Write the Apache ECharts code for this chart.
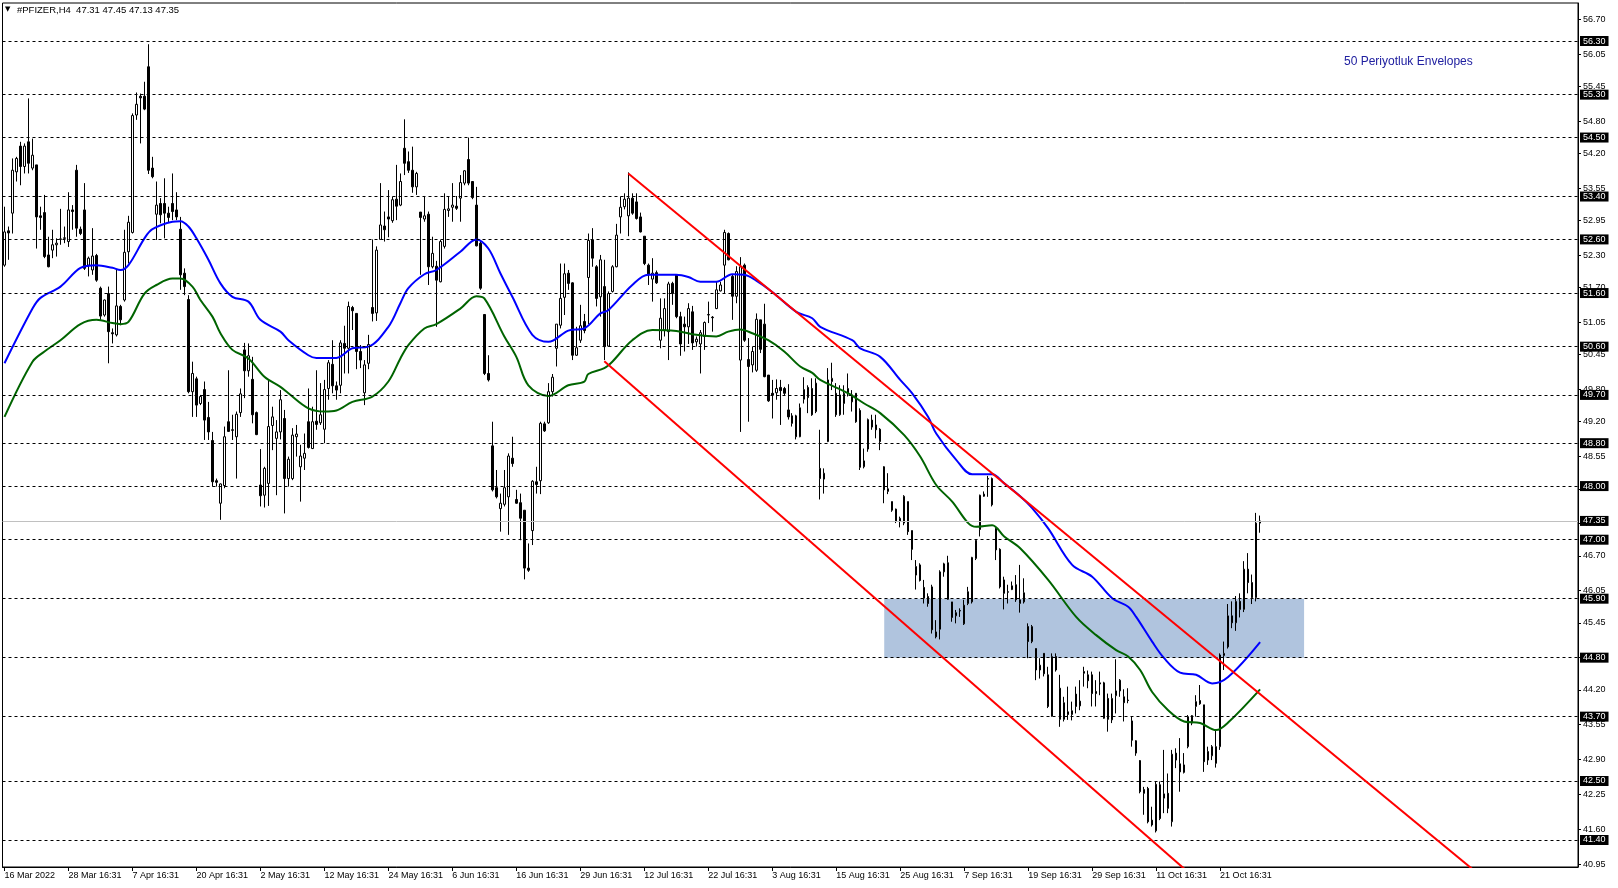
<!DOCTYPE html>
<html><head><meta charset="utf-8">
<script src="https://cdn.jsdelivr.net/npm/echarts@6/dist/echarts.min.js"></script>
<style>html,body{margin:0;padding:0;background:#fff;}#c{width:1618px;height:888px;}</style>
</head><body><div id="c"></div>
<script>
// ---- data (H4 bars, index 0 = 16 Mar 2022) ----
const opens = [52.12,52.76,53.09,53.86,54.34,53.96,54.42,53.93,53.99,53.04,53.10,52.31,52.40,52.50,52.60,52.62,52.56,53.15,53.89,52.79,
53.15,52.12,52.03,52.30,51.69,51.19,51.59,50.86,50.82,51.35,51.47,52.37,52.73,54.92,55.27,55.27,55.82,53.93,53.07,53.27,
53.27,53.09,53.27,53.15,52.79,51.97,51.48,49.76,50.00,49.54,49.80,49.28,48.85,48.10,47.68,48.01,49.20,49.05,48.92,49.37,
50.54,50.15,49.99,49.37,48.02,47.83,48.05,49.13,48.89,49.01,49.26,48.14,48.14,48.92,48.36,48.52,49.20,48.70,49.21,49.18,
49.06,49.82,50.27,49.87,49.88,50.66,50.57,51.33,51.22,50.51,49.74,50.29,51.33,51.23,52.60,52.85,53.02,52.95,53.35,53.24,
54.30,54.05,53.89,53.58,53.11,52.98,53.07,52.09,52.10,51.81,52.47,53.14,53.20,53.22,53.37,53.65,54.09,53.68,53.24,52.53,
51.20,50.10,48.75,47.97,47.58,47.66,47.80,48.52,47.75,47.69,47.55,46.47,47.17,48.08,48.10,49.16,49.18,49.76,50.57,51.00,
51.52,51.97,51.79,50.44,50.72,51.07,51.89,52.59,52.09,51.53,51.72,50.61,51.63,52.09,53.02,53.21,53.04,53.37,53.30,53.02,
52.66,52.12,51.86,51.98,50.72,50.91,50.88,51.78,51.94,51.16,51.02,50.97,51.25,50.69,50.65,50.79,51.19,51.15,51.31,51.64,
52.12,52.71,51.91,51.54,50.35,52.12,50.36,50.26,50.16,51.10,51.02,50.07,49.73,49.74,49.84,49.82,49.42,49.31,49.31,48.92,
49.62,49.84,49.82,49.39,48.33,48.13,48.83,49.95,49.73,49.33,49.54,49.73,49.57,49.73,49.41,48.36,48.69,49.23,49.14,49.06,
48.36,47.90,47.71,47.57,47.34,47.31,47.71,47.17,46.34,46.53,46.11,45.94,46.12,45.28,45.33,46.40,46.57,45.84,45.58,45.67,
45.43,45.81,45.84,46.65,47.19,47.81,48.14,48.14,47.21,46.82,46.25,46.03,46.07,46.16,45.81,45.84,45.38,45.10,44.97,44.57,
44.88,44.48,43.71,44.82,44.23,43.65,43.79,43.74,44.12,43.90,44.54,44.48,44.48,44.17,44.33,44.33,44.04,43.64,44.09,44.18,
44.07,44.01,43.62,43.25,42.88,42.34,42.36,41.77,41.57,42.43,42.18,42.27,41.74,43.02,42.82,42.66,43.14,43.58,43.89,44.00,
43.92,42.89,42.97,43.14,43.14,44.84,45.00,45.58,45.45,45.85,45.70,46.45,46.20,45.92,47.31];
const highs = [53.21,52.84,54.11,54.14,54.42,54.39,55.23,54.48,53.99,53.21,53.43,52.65,52.78,52.62,53.17,52.84,53.48,53.24,53.99,52.84,
53.65,52.28,52.81,52.33,51.72,51.48,51.72,50.94,52.04,51.38,52.78,53.04,54.95,55.34,55.32,55.54,56.24,54.14,53.68,53.37,
53.74,53.21,53.83,53.48,53.02,52.06,51.56,50.32,50.04,49.70,49.95,49.57,49.01,48.14,48.05,49.11,50.16,49.33,49.39,49.82,
50.67,50.66,50.41,49.39,48.69,48.36,49.99,49.48,49.23,49.79,49.42,48.55,49.08,49.14,48.77,48.98,49.82,49.48,50.16,49.92,
49.98,50.35,50.72,49.95,50.72,50.99,51.44,51.36,51.22,50.63,50.35,50.82,52.60,52.47,53.65,53.12,53.52,53.40,53.99,53.83,
54.84,54.24,54.33,53.86,53.11,53.41,53.12,52.65,52.20,52.59,53.46,53.40,53.65,53.41,53.80,53.89,54.50,53.68,53.58,52.58,
51.20,50.44,49.20,48.30,47.86,48.30,48.61,48.92,47.93,47.86,47.55,46.93,48.11,48.36,49.20,49.20,49.92,50.09,51.02,52.15,
52.15,52.03,51.80,50.97,51.38,51.21,52.71,52.81,52.12,52.31,52.22,51.63,52.12,52.89,53.40,53.46,53.85,53.46,53.46,53.10,
52.66,52.15,52.25,52.02,51.50,51.50,51.81,51.81,51.94,51.25,51.16,51.41,51.36,50.79,50.91,51.07,51.44,51.17,51.81,51.81,
52.78,52.73,51.94,52.10,52.27,52.15,50.76,50.60,51.22,51.10,51.40,50.07,49.98,49.99,49.98,49.85,49.90,49.36,49.33,49.54,
50.03,49.88,50.01,50.01,49.05,48.33,50.20,50.30,49.92,49.88,49.88,50.10,49.79,49.73,49.45,48.70,49.26,49.33,49.33,49.08,
48.37,48.24,47.71,47.58,47.43,47.83,47.71,47.17,46.62,46.56,46.25,46.00,46.16,45.50,46.43,46.57,46.70,45.84,45.69,45.72,
45.88,46.12,46.68,47.01,47.84,47.90,48.19,48.16,47.23,46.84,46.31,46.16,46.22,46.34,46.53,46.28,45.44,45.41,44.97,44.79,
44.88,44.63,44.88,44.88,44.48,44.07,44.26,43.98,44.26,44.38,44.63,44.56,44.54,44.38,44.54,44.35,44.13,44.13,44.77,44.40,
44.21,44.23,43.70,43.26,42.89,42.39,42.39,42.02,42.49,42.49,43.08,42.64,43.08,43.11,43.30,43.02,43.73,43.73,44.10,44.29,
43.92,43.14,43.17,43.44,44.88,45.10,45.80,45.85,45.95,46.00,46.60,46.75,46.35,47.50,47.45];
const lows = [52.09,52.22,52.71,53.68,53.61,53.83,53.83,53.89,52.43,52.78,52.25,52.08,52.25,52.28,52.50,52.53,52.46,52.78,52.65,52.68,
52.03,51.91,51.94,51.81,51.10,51.16,50.29,50.66,50.79,51.00,51.44,52.15,52.71,54.83,54.39,55.01,53.82,53.74,52.59,52.90,
52.62,52.91,52.96,52.96,51.66,51.56,49.73,49.29,49.29,49.51,48.86,48.86,47.99,47.99,47.37,47.96,49.01,48.86,48.14,49.29,
49.64,50.04,49.17,48.95,47.62,47.60,47.63,48.67,47.83,48.87,47.49,47.99,48.11,48.55,47.71,48.30,48.70,48.69,49.05,49.14,
48.80,49.61,49.73,49.61,49.73,50.10,50.10,50.91,50.18,50.20,49.51,50.18,51.07,51.08,52.60,52.56,52.64,52.91,52.96,53.22,
53.80,53.84,53.47,53.43,51.94,52.93,51.75,52.06,50.97,51.80,52.43,53.02,52.93,53.15,52.93,53.61,53.61,53.35,52.47,51.66,
50.07,49.95,47.90,47.77,47.15,47.62,47.09,48.36,47.67,46.99,46.26,46.40,46.90,47.86,47.85,49.01,49.16,49.67,50.23,50.94,
51.19,51.66,50.35,50.43,50.67,50.85,51.02,52.09,51.35,51.16,50.35,50.60,51.61,52.08,52.71,53.16,52.66,53.06,52.97,52.73,
52.12,51.75,51.44,51.77,50.57,50.79,50.35,51.38,51.13,50.43,50.51,50.65,50.54,50.60,50.10,50.54,51.04,50.88,51.30,51.63,
51.59,52.21,51.10,51.41,49.01,50.69,49.20,50.12,50.13,50.48,50.03,49.57,49.26,49.61,49.14,49.69,49.24,49.11,48.87,48.91,
49.54,49.36,49.31,49.36,47.75,47.86,48.82,49.79,49.29,49.31,49.33,49.67,49.39,49.18,48.30,48.33,48.64,49.05,48.89,48.67,
47.68,47.85,47.52,47.31,47.23,47.27,47.09,46.62,46.07,46.22,45.81,45.75,45.25,45.16,45.14,46.31,45.88,45.47,45.44,45.56,
45.41,45.78,45.81,46.62,47.06,47.80,47.80,47.62,46.62,46.09,45.70,45.81,46.06,45.84,45.64,45.81,44.79,45.07,44.38,44.41,
44.45,43.86,43.70,44.54,43.51,43.61,43.64,43.63,43.76,43.82,44.26,44.23,43.89,43.89,44.10,43.66,43.42,43.58,43.76,44.07,
43.61,43.95,43.14,42.97,42.27,41.87,41.71,41.65,41.54,41.77,41.90,41.90,41.65,42.74,42.30,42.64,43.11,43.54,43.70,43.92,
42.67,42.80,42.89,42.75,43.08,44.57,44.97,45.35,45.30,45.55,45.65,46.00,45.80,45.85,47.13];
const closes = [52.74,52.72,53.89,54.11,53.96,54.34,54.02,54.17,53.02,53.01,52.28,52.09,52.50,52.53,52.61,52.63,53.15,53.12,52.81,52.71,
52.06,52.25,52.29,51.84,51.17,51.47,50.88,50.84,51.36,51.10,52.36,52.92,54.91,55.12,55.24,55.03,53.89,53.77,53.24,53.06,
53.09,53.01,53.12,53.02,51.94,51.72,49.76,50.10,49.51,49.67,49.23,49.01,48.08,48.07,48.04,48.92,49.02,49.04,49.34,49.72,
50.15,50.43,49.33,48.96,47.82,48.33,49.11,49.29,49.01,49.61,48.14,48.50,48.95,48.97,48.56,48.61,48.72,49.20,49.15,49.33,
49.80,50.30,49.87,49.79,50.67,50.57,51.35,51.27,50.51,50.35,50.26,50.64,51.22,52.40,52.87,52.78,52.98,53.34,53.22,53.68,
54.02,53.89,53.58,53.83,53.01,53.04,52.09,52.34,51.84,52.56,53.16,53.17,53.24,53.18,53.66,53.88,53.65,53.38,52.48,51.69,
50.10,49.98,47.93,47.80,47.68,47.97,48.56,48.42,47.68,47.40,46.47,46.43,48.09,48.03,49.17,49.03,49.76,50.03,51.02,51.50,
51.96,51.78,50.44,50.58,50.99,50.90,52.58,52.25,51.50,52.22,50.60,51.59,52.09,52.68,53.20,53.35,53.37,53.09,52.99,52.74,
52.15,51.94,51.97,51.79,51.13,51.31,51.77,51.59,51.16,50.65,50.97,51.31,50.67,50.74,50.86,51.05,51.20,51.14,51.66,51.75,
52.73,52.22,51.54,52.00,52.09,50.72,50.23,50.51,51.11,50.55,50.04,49.59,49.70,49.82,49.78,49.73,49.29,49.17,48.92,49.46,
49.80,49.65,49.33,49.92,48.14,48.24,49.98,50.01,49.33,49.70,49.73,49.82,49.70,49.20,48.35,48.47,49.24,49.10,49.05,48.83,
47.93,47.95,47.55,47.34,47.40,47.81,47.15,46.82,46.50,46.24,45.91,45.81,45.32,45.19,46.40,46.55,45.89,45.55,45.64,45.68,
45.78,46.03,46.67,46.99,47.83,47.85,48.13,47.65,46.81,46.12,46.00,46.02,46.14,45.88,45.88,46.01,45.10,45.38,44.57,44.66,
44.50,43.89,44.82,44.57,43.65,43.96,43.74,43.81,43.89,43.99,44.51,44.37,44.13,44.13,44.31,43.67,43.65,44.04,44.18,44.38,
43.96,44.00,43.26,43.02,42.30,42.27,41.74,41.68,42.44,41.80,42.26,41.99,43.00,42.89,42.67,42.80,43.70,43.72,43.98,43.94,
42.86,43.05,43.14,42.83,44.85,44.88,45.58,45.45,45.85,45.70,46.45,46.20,45.92,47.31,47.35];

// time axis labels every 16 bars
const xTickLabels = ["16 Mar 2022","28 Mar 16:31","7 Apr 16:31","20 Apr 16:31","2 May 16:31","12 May 16:31","24 May 16:31","6 Jun 16:31",
"16 Jun 16:31","29 Jun 16:31","12 Jul 16:31","22 Jul 16:31","3 Aug 16:31","15 Aug 16:31","25 Aug 16:31","7 Sep 16:31",
"19 Sep 16:31","29 Sep 16:31","11 Oct 16:31","21 Oct 16:31"];
const barsPerLabel = 16;
const totalSlots = 394; // visible bar slots incl. empty right margin

// price scale labels
const yTickValues = [56.70,56.05,55.45,54.80,54.20,53.55,52.95,52.30,51.70,51.05,50.45,49.80,49.20,48.55,47.95,47.30,46.70,46.05,45.45,44.80,44.20,43.55,42.90,42.25,41.60,40.95];
const yMin = 40.896, yMax = 57.009;

// horizontal levels
const levelLines = [56.30,55.30,54.50,53.40,52.60,51.60,50.60,49.70,48.80,48.00,47.00,45.90,44.80,43.70,42.50,41.40];
const currentPrice = 47.35;

// envelope (50 period) upper / lower
const upperEnvIdx = [0,7,9,14,19,23,27,29,31,35,37,42,44,46,48,51,54,57,61,64,69,71,76,78,83,87,91,96,99,101,105,108,114,118,121,124,127,132,136,141,145,149,151,157,161,168,171,174,178,182,185,188,192,198,202,204,212,214,219,224,227,231,233,238,242,247,250,254,257,261,267,272,277,281,283,287,290,294,298,302,306,314];
const upperEnvVal = [50.29,51.31,51.51,51.72,52.07,52.12,52.07,52.03,52.12,52.62,52.79,52.93,52.94,52.84,52.62,52.22,51.78,51.53,51.44,51.10,50.88,50.72,50.44,50.39,50.39,50.57,50.60,50.97,51.41,51.69,51.95,52.03,52.37,52.60,52.43,51.97,51.53,50.82,50.69,50.90,50.94,51.22,51.28,51.75,51.94,51.94,51.90,51.81,51.81,51.95,51.94,51.83,51.62,51.25,51.13,50.97,50.72,50.57,50.41,49.98,49.73,49.29,48.98,48.49,48.22,48.22,48.05,47.81,47.59,47.21,46.53,46.31,45.91,45.75,45.56,45.10,44.79,44.52,44.48,44.32,44.44,45.09];
const lowerEnvIdx = [0,7,10,14,19,23,27,29,31,35,38,42,44,47,49,52,54,57,61,65,69,71,76,80,83,87,92,96,99,101,105,108,114,118,120,125,128,131,136,141,145,146,150,152,157,162,168,173,178,181,184,187,191,195,199,202,204,211,215,219,225,229,233,237,241,243,247,250,254,261,268,273,278,281,284,287,291,295,299,303,306,314];
const lowerEnvVal = [49.29,50.32,50.51,50.72,51.02,51.10,51.04,51.02,51.06,51.59,51.75,51.87,51.87,51.72,51.47,51.16,50.85,50.54,50.38,50.04,49.85,49.73,49.45,49.39,49.41,49.57,49.67,49.95,50.38,50.63,50.94,51.02,51.31,51.54,51.50,50.79,50.41,49.88,49.68,49.88,49.95,50.09,50.20,50.32,50.72,50.91,50.89,50.82,50.79,50.88,50.92,50.85,50.72,50.51,50.23,50.11,49.98,49.73,49.54,49.36,48.95,48.55,48.02,47.71,47.31,47.24,47.27,47.06,46.84,46.25,45.56,45.22,44.94,44.82,44.57,44.16,43.82,43.61,43.58,43.45,43.59,44.21];

// red channel trend lines [bar index, price]
const channelUpper = [[156,53.83],[369,40.74]];
const channelLower = [[150,50.33],[296,40.80]];

// support/resistance zone
const zone = {from: 220, to: 325, top: 45.90, bottom: 44.80};

const header = "#PFIZER,H4  47.31 47.45 47.13 47.35";
const noteText = "50 Periyotluk Envelopes";

// ---- build chart ----
const FONT = "Liberation Sans, Arial, sans-serif";
const categories = [];
for (let i = 0; i < totalSlots; i++) categories.push(String(i));
const candleData = opens.map((o, i) => [o, closes[i], lows[i], highs[i]]);
const isLabelIdx = (i) => i % barsPerLabel === 0 && i / barsPerLabel < xTickLabels.length;

const levelLabel = {show: true, position: 'end', distance: 2, formatter: (p) => p.value.toFixed(2),
  color: '#fff', backgroundColor: '#000', padding: [1, 3, 0, 3], fontSize: 9, fontFamily: FONT};

const chart = echarts.init(document.getElementById('c'), null, {renderer: 'canvas'});
chart.setOption({
  animation: false,
  backgroundColor: '#ffffff',
  grid: {left: 2.5, right: 40, top: 3, bottom: 21, show: true, borderColor: '#000', borderWidth: 1, backgroundColor: 'transparent'},
  xAxis: {
    type: 'category', data: categories, boundaryGap: true,
    axisLine: {show: true, lineStyle: {color: '#000', width: 1}},
    axisTick: {show: true, alignWithLabel: true, length: 4, interval: (i) => isLabelIdx(i), lineStyle: {color: '#000'}},
    axisLabel: {show: true, interval: (i) => isLabelIdx(i), formatter: (v, i) => isLabelIdx(i) ? xTickLabels[i / barsPerLabel] : '',
      align: 'left', margin: 4, fontSize: 9, color: '#000', fontFamily: FONT},
    splitLine: {show: false}
  },
  yAxis: {
    type: 'value', position: 'right', min: yMin, max: yMax, scale: true,
    axisLine: {show: true, lineStyle: {color: '#000', width: 1}},
    axisTick: {show: true, length: 3, customValues: yTickValues, lineStyle: {color: '#000'}},
    axisLabel: {show: true, customValues: yTickValues, formatter: (v) => v.toFixed(2), margin: 5, fontSize: 9, color: '#000', fontFamily: FONT},
    splitLine: {show: false}
  },
  graphic: [
    {type: 'text', left: 5, top: 6, style: {text: '▼', fontSize: 7, fill: '#000', fontFamily: 'DejaVu Sans'}},
    {type: 'text', left: 17, top: 5, style: {text: header, fontSize: 9.5, fill: '#000', fontFamily: FONT}},
    {type: 'text', left: 1344, top: 56, style: {text: noteText, fontSize: 12, fill: '#2020a0', fontFamily: FONT}}
  ],
  series: [
    {
      type: 'line', data: [], z: 1, silent: true,
      markArea: {silent: true, itemStyle: {color: '#b0c4de', opacity: 1},
        data: [[{coord: [zone.from, zone.top]}, {coord: [zone.to, zone.bottom]}]]}
    },
    {
      type: 'line', data: [], z: 2, silent: true,
      markLine: {silent: true, symbol: ['none', 'none'], animation: false,
        lineStyle: {color: '#000', type: [3, 3], width: 1},
        label: levelLabel,
        data: levelLines.map(v => ({yAxis: v}))}
    },
    {
      type: 'line', data: [], z: 2, silent: true,
      markLine: {silent: true, symbol: ['none', 'none'], animation: false,
        lineStyle: {color: '#c0c0c0', type: 'solid', width: 1},
        label: levelLabel,
        data: [{yAxis: currentPrice}]}
    },
    {
      type: 'candlestick', data: candleData, z: 3, barWidth: 2,
      itemStyle: {color: '#ffffff', color0: '#000000', borderColor: '#000000', borderColor0: '#000000', borderWidth: 1}
    },
    {
      type: 'line', z: 4, data: upperEnvIdx.map((x, k) => [x, upperEnvVal[k]]), smooth: 0.35, symbol: 'none',
      lineStyle: {color: '#0000ff', width: 2}, silent: true
    },
    {
      type: 'line', z: 4, data: lowerEnvIdx.map((x, k) => [x, lowerEnvVal[k]]), smooth: 0.35, symbol: 'none',
      lineStyle: {color: '#006400', width: 2}, silent: true
    },
    {
      type: 'line', z: 5, data: channelUpper, symbol: 'none', clip: true,
      lineStyle: {color: '#ff0000', width: 2}, silent: true
    },
    {
      type: 'line', z: 5, data: channelLower, symbol: 'none', clip: true,
      lineStyle: {color: '#ff0000', width: 2}, silent: true
    }
  ]
});
</script>
</body></html>
